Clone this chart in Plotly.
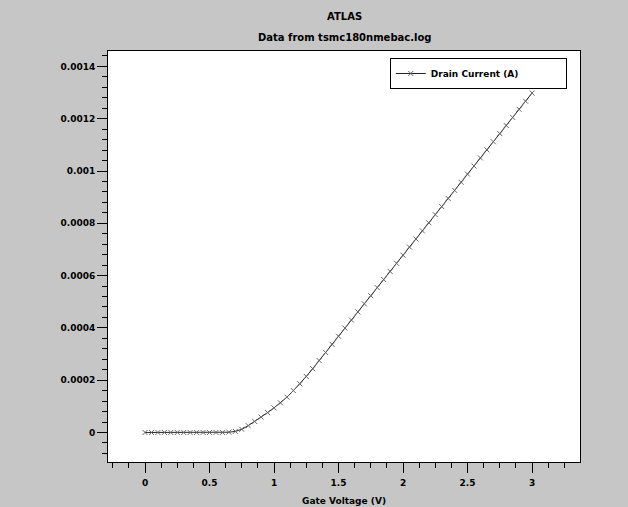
import plotly.graph_objects as go

gate_voltage = [round(i * 0.05, 2) for i in range(61)]
drain_current = [
    0.0, 0.0, 0.0, 0.0, 0.0, 0.0, 0.0, 0.0, 0.0, 0.0,
    0.0, 0.0, 0.0, 0.000001, 0.000004, 0.000012, 0.000026, 0.000042, 0.000059, 0.000076,
    0.000094, 0.000113, 0.000135, 0.000160, 0.000186, 0.000214, 0.000244, 0.000275, 0.000306, 0.000337,
    0.000368, 0.000399, 0.000430, 0.000461, 0.000492, 0.000523, 0.000554, 0.000585, 0.000616, 0.000647,
    0.000678, 0.000709, 0.000740, 0.000771, 0.000802, 0.000833, 0.000864, 0.000895, 0.000926, 0.000957,
    0.000988, 0.001019, 0.001050, 0.001081, 0.001112, 0.001143, 0.001174, 0.001205, 0.001236, 0.001267,
    0.001298,
]
x_ticks = [0, 0.5, 1, 1.5, 2, 2.5, 3]
x_tick_labels = ["0", "0.5", "1", "1.5", "2", "2.5", "3"]
y_ticks = [0, 0.0002, 0.0004, 0.0006, 0.0008, 0.001, 0.0012, 0.0014]
y_tick_labels = ["0", "0.0002", "0.0004", "0.0006", "0.0008", "0.001", "0.0012", "0.0014"]

font_family = "DejaVu Sans"

fig = go.Figure()
fig.add_trace(go.Scatter(
    x=gate_voltage, y=drain_current, mode="lines+markers",
    name="<b>Drain Current (A)</b>",
    line=dict(color="#222222", width=1),
    marker=dict(symbol="x-thin", size=5, line=dict(color="#666666", width=1), color="#666666"),
))

fig.update_layout(
    width=628, height=507,
    margin=dict(l=108, r=48, t=51, b=45),
    paper_bgcolor="#c6c6c6",
    plot_bgcolor="white",
    font=dict(family=font_family, size=9, color="black"),
    showlegend=True,
    legend=dict(
        orientation="h",
        x=0.597, y=0.983, xanchor="left", yanchor="top",
        bgcolor="white", bordercolor="black", borderwidth=1,
        font=dict(size=9, family=font_family),
        entrywidth=130, entrywidthmode="pixels",
    ),
    annotations=[
        dict(text="<b>ATLAS</b>", x=0.5, y=1.0, xref="paper", yref="paper",
             xanchor="center", yanchor="bottom", yshift=27, showarrow=False,
             font=dict(size=10, family=font_family)),
        dict(text="<b>Data from tsmc180nmebac.log</b>", x=0.5, y=1.0, xref="paper", yref="paper",
             xanchor="center", yanchor="bottom", yshift=6, showarrow=False,
             font=dict(size=10, family=font_family)),
    ],
)

fig.update_xaxes(
    range=[-0.287, 3.372], tickvals=x_ticks, ticktext=x_tick_labels,
    showgrid=False, zeroline=False, automargin=False,
    showline=True, linecolor="black", linewidth=1, mirror=True,
    ticks="outside", ticklen=10, tickcolor="black", ticklabelstandoff=2,
    tickfont=dict(size=9, family=font_family, weight="bold"),
    minor=dict(dtick=0.125, tick0=0, ticks="outside", ticklen=5, tickcolor="black"),
    title=dict(text="<b>Gate Voltage (V)</b>", standoff=10, font=dict(size=9, family=font_family)),
)
fig.update_yaxes(
    range=[-0.000113, 0.001459], tickvals=y_ticks, ticktext=y_tick_labels,
    showgrid=False, zeroline=False, automargin=False,
    showline=True, linecolor="black", linewidth=1, mirror=True,
    ticks="outside", ticklen=10, tickcolor="black",
    tickfont=dict(size=9, family=font_family, weight="bold"),
    minor=dict(dtick=0.00004, tick0=0, ticks="outside", ticklen=5, tickcolor="black"),
)

fig.write_html(
    "out.html",
    config={"displayModeBar": False},
    post_script="document.body.style.margin='0';document.body.style.background='#c6c6c6';",
)
